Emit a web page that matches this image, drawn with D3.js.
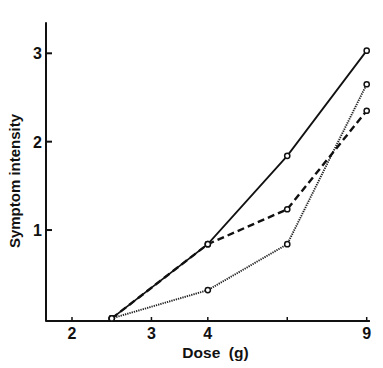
<!DOCTYPE html>
<html><head><meta charset="utf-8">
<script src="https://cdn.jsdelivr.net/npm/d3@7"></script>
<style>body{margin:0;background:#fff}svg{display:block}text{font-family:"Liberation Sans",Arial,sans-serif;font-weight:bold;fill:#111}</style>
</head><body><svg id="c" width="383" height="368"></svg>
<script>
const doses = [2.45, 4, 6, 9];
const solidSeries  = [0, 0.84, 1.84, 3.03];
const dashedSeries = [0, 0.84, 1.235, 2.35];
const dottedSeries = [0, 0.32, 0.84, 2.65];
const xTicks = [2, 3, 4, 6, 9];
const xTickLabels = ["2", "3", "4", "", "9"];
const yTicks = [1, 2, 3];

const svg = d3.select("#c");
const x = d3.scaleLog().domain([2, 9]).range([72, 366.7]);
const y = d3.scaleLinear().domain([0, 3]).range([318.4, 53.3]);
const axisY = 321;
const x0 = 46;

svg.append("line").attr("x1", x0).attr("x2", x0).attr("y1", y(3.35)).attr("y2", axisY+0.5)
  .attr("stroke", "#111").attr("stroke-width", 2);
svg.append("line").attr("x1", x0-0.5).attr("x2", x(9.15)).attr("y1", axisY).attr("y2", axisY)
  .attr("stroke", "#111").attr("stroke-width", 2);

xTicks.forEach((t, i) => {
  svg.append("line").attr("x1", x(t)).attr("x2", x(t)).attr("y1", axisY).attr("y2", axisY-4)
    .attr("stroke", "#111").attr("stroke-width", 1.5);
  if (xTickLabels[i]) svg.append("text").attr("x", x(t)).attr("y", 338.5).attr("text-anchor", "middle")
    .attr("font-size", 16).text(xTickLabels[i]);
});
yTicks.forEach(t => {
  svg.append("line").attr("x1", x0).attr("x2", x0+6).attr("y1", y(t)).attr("y2", y(t))
    .attr("stroke", "#111").attr("stroke-width", 2);
  svg.append("text").attr("x", 37.5).attr("y", y(t)+6).attr("text-anchor", "middle")
    .attr("font-size", 16).text(t);
});

svg.append("text").attr("transform", "translate(20,181) rotate(-90)").attr("text-anchor", "middle")
  .attr("font-size", 15).text("Symptom intensity");
svg.append("text").attr("x", 215.5).attr("y", 358).attr("text-anchor", "middle")
  .attr("font-size", 15.5).style("white-space","pre").text("Dose  (g)");

const line = d3.line().x((d, i) => x(doses[i])).y(d => y(d));
svg.append("path").datum(dottedSeries).attr("d", line).attr("fill", "none")
  .attr("stroke", "#222").attr("stroke-width", 1.9).attr("stroke-dasharray", "1.3,1");
svg.append("path").datum(dashedSeries).attr("d", line).attr("fill", "none")
  .attr("stroke", "#111").attr("stroke-width", 2.4).attr("stroke-dasharray", "7,4");
svg.append("path").datum(solidSeries).attr("d", line).attr("fill", "none")
  .attr("stroke", "#111").attr("stroke-width", 1.8);

[solidSeries, dashedSeries, dottedSeries].forEach(s => {
  svg.selectAll(null).data(s).enter().append("circle")
    .attr("cx", (d, i) => x(doses[i])).attr("cy", d => y(d)).attr("r", 2.6)
    .attr("fill", "#fff").attr("stroke", "#111").attr("stroke-width", 1.5);
});
</script></body></html>
